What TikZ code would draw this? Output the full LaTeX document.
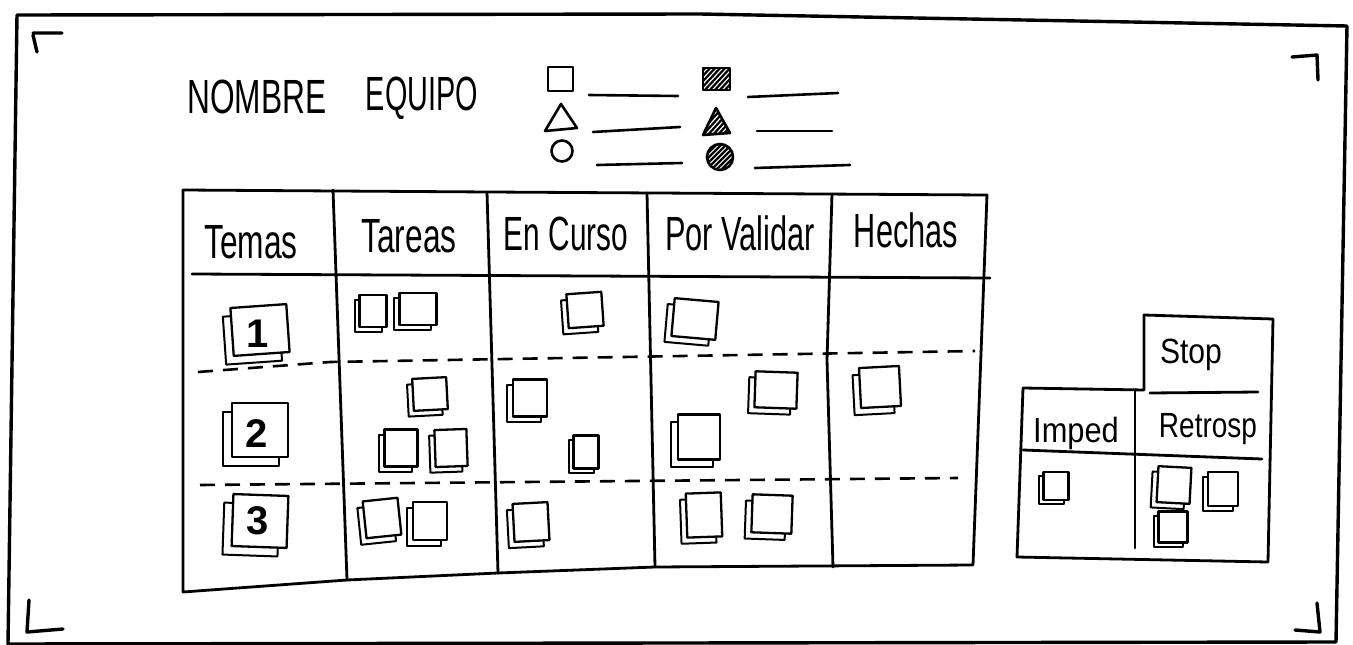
\documentclass[tikz,border=0pt]{standalone}
\usepackage{fontspec}
\setmainfont{Liberation Sans}
\usetikzlibrary{calc}
\newcommand\hw[3]{\scalebox{#1}[1]{\fontsize{#2}{#2}\selectfont #3}}
\newcommand\sticky[5]{% x y w h angle
  \begin{scope}[shift={(#1,#2)},rotate=#5]
    \pgfmathsetmacro\stkw{#3/2}\pgfmathsetmacro\stkh{#4/2}%
    \pgfmathsetmacro\stko{min(#3,#4)*0.17}%
    \draw[backnote] ({-\stkw-\stko},{-\stkh+\stko}) rectangle ({\stkw-\stko},{\stkh+\stko});
    \draw[frontnote] (-\stkw,-\stkh) rectangle (\stkw,\stkh);
  \end{scope}}
\tikzset{
  frame/.style={line width=2.8pt, line join=round, line cap=round},
  outer/.style={line width=3.4pt, line join=round, line cap=round},
  dashline/.style={line width=2.6pt, dash pattern=on 15pt off 10pt},
  backnote/.style={line width=2pt, line join=round, fill=white},
  frontnote/.style={line width=2.3pt, line join=round, fill=white},
  legend/.style={line width=2.6pt, line cap=round, line join=round},
  hatch/.style={line width=2.2pt},
  txt/.style={inner sep=0pt, anchor=base},
}
\begin{document}
\begin{tikzpicture}[x=1pt,y=-1pt]
\useasboundingbox (0,0) rectangle (1353,645);
% outer border
\draw[outer] (17,15) -- (700,14) -- (1347,26) -- (1336,642) -- (8,644) -- cycle;
% corner marks
\draw[outer] (33,33) -- (62,33) (33,35) -- (37,52);
\draw[outer] (1292,57) -- (1317,55) -- (1318,80);
\draw[outer] (29,600) -- (27,632) -- (63,629);
\draw[outer] (1317,603) -- (1320,632) -- (1295,630);

% title
\node[txt] (nombre) at (257,113) {\hw{0.66}{48}{NOMBRE}};
\node[txt] (equipo) at (422,110) {\hw{0.6}{48}{EQUIPO}};

% legend
\draw[legend] (548,67) rectangle (573,91);
\draw[legend] (589,95) -- (678,96);
\draw[legend] (545,131) -- (561,104) -- (577,128) -- cycle;
\draw[legend] (593,132) -- (680,127);
\draw[legend] (562,151) circle (10.5);
\draw[legend] (597,165) -- (682,163);
\begin{scope}
  \clip (703,68) rectangle (730,90);
  \foreach \i in {-26,-21,...,30} \draw[hatch] (716+\i-12,92) -- (716+\i+12,66);
\end{scope}
\draw[legend] (703,68) rectangle (730,90);
\draw[legend] (748,97) -- (838,93);
\begin{scope}
  \clip (703,135) -- (716,108) -- (730,133) -- cycle;
  \foreach \i in {-26,-21,...,30} \draw[hatch] (716+\i-14,137) -- (716+\i+14,106);
\end{scope}
\draw[legend] (703,135) -- (716,108) -- (730,133) -- cycle;
\draw[legend] (757,131) -- (832,131);
\begin{scope}
  \clip (720,157) circle (13);
  \foreach \i in {-26,-21,...,30} \draw[hatch] (720+\i-14,171) -- (720+\i+14,143);
\end{scope}
\draw[legend] (720,157) circle (13);
\draw[legend] (755,168) -- (850,165);

% main table
\draw[frame] (183,190) -- (490,192) -- (987,195) -- (973,565) -- (655,567) -- (498,573) -- (347,580) -- (183,592) -- cycle;
\draw[frame] (192,274) -- (990,278);
\draw[frame] (333,190) -- (347,580);
\draw[frame] (487,192) -- (498,573);
\draw[frame] (647,193) -- (655,567);
\draw[frame] (832,194) -- (827,360) -- (833,567);
\draw[dashline] (198,372) -- (330,362) -- (975,351);
\draw[dashline] (200,485) -- (958,478);

% headers
\node[txt] (temas) at (251,258) {\hw{0.66}{48}{Temas}};
\node[txt] (tareas) at (409,252) {\hw{0.66}{48}{Tareas}};
\node[txt] (encurso) at (566,250) {\hw{0.62}{48}{En Curso}};
\node[txt] (porvalidar) at (740,250) {\hw{0.64}{48}{Por Validar}};
\node[txt] (hechas) at (906,247) {\hw{0.64}{48}{Hechas}};

% Temas notes
\sticky{260}{330}{56}{48}{4}
\sticky{260}{430}{56}{54}{0}
\sticky{260}{521}{55}{52}{-2}
\node[txt] (n1) at (258,347) {\fontsize{40}{40}\selectfont\bfseries 1};
\node[txt] (n2) at (257,447) {\fontsize{40}{40}\selectfont\bfseries 2};
\node[txt] (n3) at (258,534) {\fontsize{40}{40}\selectfont\bfseries 3};
% Tareas
\sticky{373}{311}{27}{32}{0}
\sticky{418}{309}{37}{32}{0}
\sticky{430}{394}{34}{32}{3}
\sticky{401}{448}{33}{37}{0}
\sticky{451}{448}{32}{37}{2}
\sticky{382}{518}{35}{37}{6}
\sticky{430}{521}{34}{38}{0}
% En Curso
\sticky{585}{310}{35}{34}{4}
\sticky{530}{398}{34}{37}{0}
\sticky{586}{452}{25}{33}{0}
\sticky{531}{522}{35}{38}{3}
% Por Validar
\sticky{695}{319}{44}{38}{-5}
\sticky{776}{390}{42}{36}{-2}
\sticky{699}{437}{42}{45}{0}
\sticky{704}{515}{35}{44}{2}
\sticky{772}{514}{40}{38}{-2}
% Hechas
\sticky{880}{387}{40}{40}{3}

% side panel
\draw[frame] (1144,390) -- (1144,315) -- (1273,319) -- (1268,562) -- (1017,557) -- (1023,388) -- (1144,390);
\draw[frame] (1150,393) -- (1258,392);
\draw[frame] (1023,450) -- (1262,459);
\draw[frame] (1135,390) -- (1135,548);
\node[txt] (stop) at (1191,363) {\hw{0.86}{35}{Stop}};
\node[txt] (imped) at (1076,442) {\hw{0.88}{35}{Imped}};
\node[txt] (retrosp) at (1208,437) {\hw{0.8}{35}{Retrosp}};
\sticky{1056}{486}{25}{28}{0}
\sticky{1174}{485}{33}{36}{-3}
\sticky{1223}{489}{30}{34}{0}
\sticky{1173}{527}{29}{31}{0}
\end{tikzpicture}
\end{document}
